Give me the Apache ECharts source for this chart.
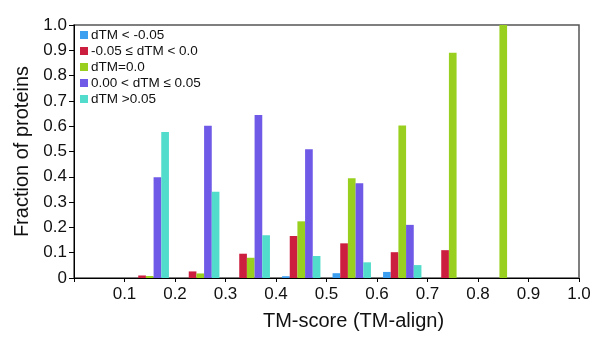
<!DOCTYPE html>
<html>
<head>
<meta charset="utf-8">
<script src="https://cdn.jsdelivr.net/npm/echarts@6/dist/echarts.min.js"></script>
<style>html,body{margin:0;padding:0;background:#fff;}#c{width:600px;height:356px;}</style>
</head>
<body>
<div id="c"></div>
<script>
const categories = ["0.0-0.1","0.1-0.2","0.2-0.3","0.3-0.4","0.4-0.5","0.5-0.6","0.6-0.7","0.7-0.8","0.8-0.9","0.9-1.0"];
const seriesNames = ["dTM < -0.05","-0.05 ≤ dTM < 0.0","dTM=0.0","0.00 < dTM ≤ 0.05","dTM >0.05"];
const dtmBelow = [0, 0, 0, 0, 0.007, 0.019, 0.024, 0, 0, 0];
const dtmNegSmall = [0, 0.01, 0.026, 0.096, 0.166, 0.137, 0.102, 0.11, 0, 0];
const dtmZero = [0, 0.008, 0.018, 0.08, 0.224, 0.394, 0.603, 0.89, 1.0, 0];
const dtmPosSmall = [0, 0.398, 0.602, 0.644, 0.509, 0.375, 0.21, 0, 0, 0];
const dtmAbove = [0, 0.577, 0.341, 0.169, 0.087, 0.062, 0.051, 0, 0, 0];
const xTickLabels = ["", "0.1","0.2","0.3","0.4","0.5","0.6","0.7","0.8","0.9","1.0"];
const yTickLabels = ["0","0.1","0.2","0.3","0.4","0.5","0.6","0.7","0.8","0.9","1.0"];
const colors = ["#3d9ff0","#cc1f40","#99cf1f","#6e5ae6","#52dccb"];
const allData = [dtmBelow, dtmNegSmall, dtmZero, dtmPosSmall, dtmAbove];

const font = "Liberation Sans, Arial, sans-serif";
const chart = echarts.init(document.getElementById('c'));
chart.setOption({
  animation: false,
  textStyle: {fontFamily: font},
  grid: {left: 74, top: 25, right: 21, bottom: 78, show: true, borderColor: '#555', borderWidth: 1.5, backgroundColor: 'transparent'},
  legend: {
    orient: 'vertical', left: 80, top: 28, padding: 0,
    itemWidth: 8, itemHeight: 8, itemGap: 2,
    icon: 'rect',
    textStyle: {fontSize: 13.5, color: '#111', fontFamily: font, padding: [0,0,0,-2]},
    data: seriesNames
  },
  xAxis: [
    {type: 'category', data: categories, show: false, boundaryGap: true},
    {type: 'value', min: 0, max: 1, interval: 0.1, position: 'bottom',
     axisLine: {show: true, lineStyle: {color: '#000', width: 1}},
     axisTick: {show: true, length: 4, lineStyle: {color: '#000'}},
     splitLine: {show: false},
     axisLabel: {fontSize: 17, color: '#111', margin: 8, fontFamily: font,
       formatter: v => xTickLabels[Math.round(v * 10)]},
     name: 'TM-score (TM-align)', nameLocation: 'middle', nameGap: 33,
     nameTextStyle: {fontSize: 20, color: '#111', fontFamily: font, padding: [0,0,0,54]}}
  ],
  yAxis: {
    type: 'value', min: 0, max: 1, interval: 0.1,
    axisLine: {show: true, lineStyle: {color: '#000', width: 1}},
    axisTick: {show: true, length: 5, lineStyle: {color: '#000'}},
    splitLine: {show: false},
    axisLabel: {fontSize: 17, color: '#111', margin: 7, fontFamily: font,
      formatter: v => yTickLabels[Math.round(v * 10)]},
    name: 'Fraction of proteins', nameLocation: 'middle', nameGap: 40,
    nameTextStyle: {fontSize: 20, color: '#111', fontFamily: font}
  },
  series: seriesNames.map((n, i) => ({
    name: n, type: 'bar', xAxisIndex: 0, data: allData[i],
    barGap: '0%', barCategoryGap: '24%',
    itemStyle: {color: colors[i]}
  }))
});
</script>
</body>
</html>
